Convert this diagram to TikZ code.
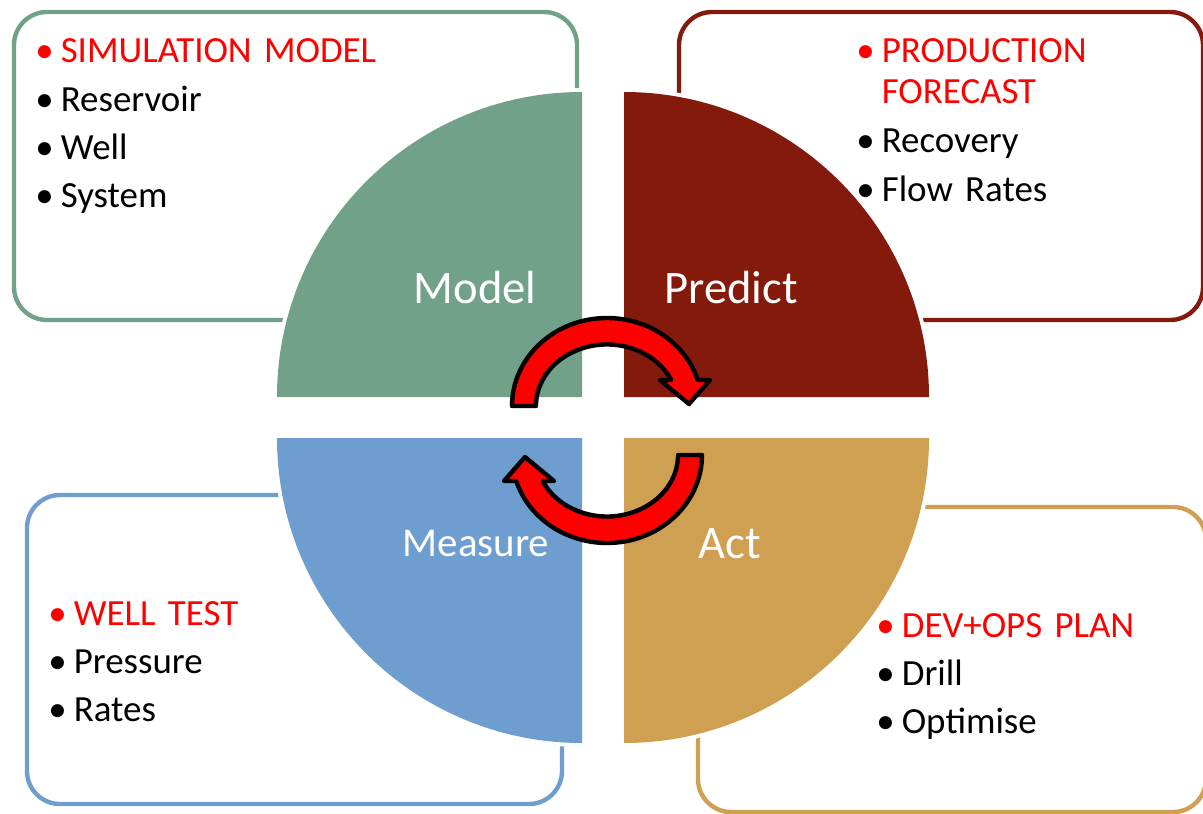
\documentclass[tikz,border=0pt]{standalone}
\usepackage{fontspec}
\setmainfont{Carlito}
\usepackage{xcolor}

\definecolor{modelgreen}{RGB}{114,161,137}
\definecolor{predictred}{RGB}{132,26,11}
\definecolor{measureblue}{RGB}{110,158,207}
\definecolor{actgold}{RGB}{207,160,82}

% bullet with a fixed gap before the item text
\newcommand{\itm}[1]{\makebox[14.5pt][l]{\textbullet}#1}

\begin{document}
\begin{tikzpicture}[x=0.02cm,y=0.02cm,
 panel/.style={draw=#1,line width=2.5pt,rounded corners=0.66cm},
 quarter/.style={fill=#1,preaction={draw=white,line width=4.5pt}},
 lbl/.style={text=white,anchor=base,inner sep=0pt,font=\fontsize{26.5}{30}\selectfont},
 lst/.style={anchor=base west,inner sep=0pt,text width=8cm,align=left,font=\fontsize{21}{23.2}\selectfont},
 turn/.style={fill=red,draw=black,line width=2.5pt,line join=round}]
\path[use as bounding box] (0,0) rectangle (1203,-814);

% rounded panels behind the wheel
\draw[panel=modelgreen] (14,-12) rectangle (577,-320);
\draw[panel=predictred] (679,-12) rectangle (1203,-320);
\draw[panel=measureblue] (27,-495) rectangle (562,-804);
\draw[panel=actgold] (698,-507) rectangle (1206,-812);

% the four quarters
\path[quarter=modelgreen] (582,-397) -- (277,-397) arc[start angle=180,end angle=90,radius=305] -- cycle;
\path[quarter=predictred] (624,-397) -- (624,-92) arc[start angle=90,end angle=0,radius=305] -- cycle;
\path[quarter=measureblue] (582,-438) -- (582,-743) arc[start angle=270,end angle=180,radius=305] -- cycle;
\path[quarter=actgold] (624,-438) -- (929,-438) arc[start angle=0,end angle=-90,radius=305] -- cycle;

\node[lbl] (model) at (475,-303) {Model};
\node[lbl] (predict) at (731,-303) {Predict};
\node[lbl,font=\fontsize{23.3}{28}\selectfont] (measure) at (476,-556) {Measure};
\node[lbl] (act) at (730,-558) {Act};

% item lists
\node[lst] (simlist) at (35,-63)
 {{\color{red}\itm{SIMULATION MODEL}}\\[4.2pt] \itm{Reservoir}\\[4.2pt] \itm{Well}\\[4.2pt] \itm{System}};
\node[lst] (forecastlist) at (856,-63)
 {{\color{red}\itm{PRODUCTION}\\\hspace*{14.5pt}FORECAST}\\[4.8pt] \itm{Recovery}\\[4.2pt] \itm{Flow Rates}};
\node[lst] (testlist) at (48,-625)
 {{\color{red}\itm{WELL TEST}}\\[4.2pt] \itm{Pressure}\\[4.2pt] \itm{Rates}};
\node[lst] (planlist) at (876,-637)
 {{\color{red}\itm{DEV+OPS PLAN}}\\[4.2pt] \itm{Drill}\\[4.2pt] \itm{Optimise}};

% circular arrows, the lower one is the upper turned half round
\foreach \ang in {0,180}
 \draw[turn,rotate around={\ang:(607,-430.5)}] (512,-406)
  arc[start angle=180,end angle=17.2,x radius=95,y radius=88]
  -- (710,-380) -- (689,-404) -- (660,-380) -- (671.3,-380)
  arc[start angle=25,end angle=180,x radius=71,y radius=61.5] -- cycle;
\end{tikzpicture}
\end{document}
